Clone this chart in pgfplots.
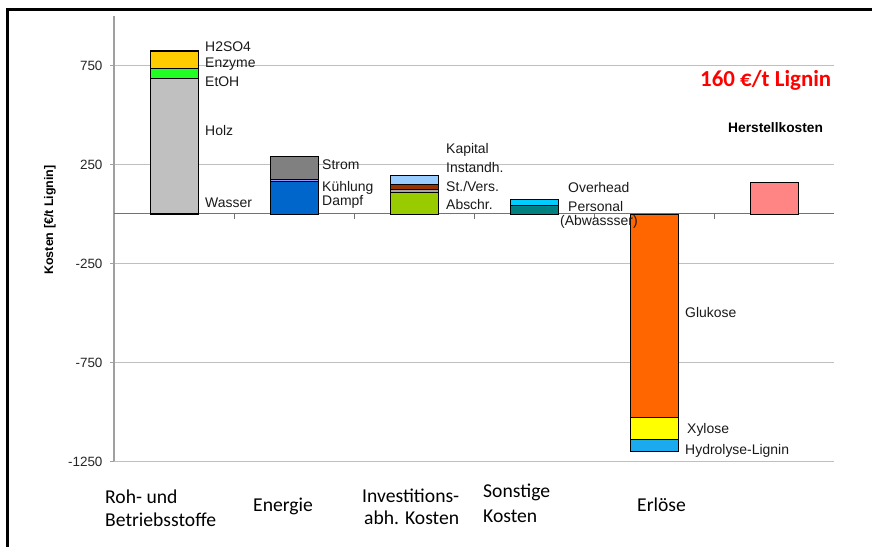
\documentclass[border=0pt]{standalone}
\usepackage{pgfplots}
\pgfplotsset{compat=1.18}
\usepackage{fontspec}
\setmainfont{Liberation Sans}
\newfontfamily\calibri{Carlito}
\definecolor{cWasser}{HTML}{333366}
\definecolor{cHolz}{HTML}{C0C0C0}
\definecolor{cEtOH}{HTML}{22FF22}
\definecolor{cEnzyme}{HTML}{FFCC00}
\definecolor{cHSO}{HTML}{996600}
\definecolor{cDampf}{HTML}{0066CC}
\definecolor{cKuehl}{HTML}{9999FF}
\definecolor{cStrom}{HTML}{808080}
\definecolor{cAbschr}{HTML}{99CC00}
\definecolor{cStVers}{HTML}{A6A6A6}
\definecolor{cInst}{HTML}{993300}
\definecolor{cKapital}{HTML}{99CCFF}
\definecolor{cPersonal}{HTML}{008080}
\definecolor{cOverhead}{HTML}{00CCFF}
\definecolor{cGlukose}{HTML}{FF6600}
\definecolor{cXylose}{HTML}{FFFF00}
\definecolor{cLignin}{HTML}{1CAAEE}
\definecolor{cHerst}{HTML}{FF8585}
\definecolor{cGrid}{HTML}{BFBFBF}
\definecolor{cAxis}{HTML}{A0A0A0}
\newcommand\lab[3]{\node[anchor=base west, inner sep=0pt, text=black!90, font=\fontsize{14}{16}\selectfont] at (#1,547-#2) {#3};}
\newcommand\cat[3]{\node[anchor=base west, inner sep=0pt, text=black, font=\calibri\fontsize{19.7}{23}\selectfont] at (#1,547-#2) {#3};}
\begin{document}
\begin{tikzpicture}[x=1bp,y=1bp]
\useasboundingbox (0,0) rectangle (872,547);
\draw[line width=3bp] (7,0) -- (7,537) -- (872,537);
\begin{axis}[
  at={(114bp,85.5bp)}, anchor=south west,
  scale only axis, width=720bp, height=445.5bp,
  xmin=-0.5, xmax=5.5, ymin=-1250, ymax=1000,
  axis x line=none, axis y line=left,
  axis line style={-, draw=cAxis, line width=1.2bp},
  ytick={-1250,-750,-250,250,750},
  yticklabels={-1250,-750,-250,250,750},
  extra y ticks={0}, extra y tick labels={},
  extra y tick style={grid style={draw=black!55, line width=1bp}, major tick length=0pt},
  ymajorgrids, grid style={draw=cGrid, line width=1.2bp},
  tick align=outside, major tick length=4bp, tick style={draw=cAxis, line width=1bp},
  yticklabel style={font=\fontsize{13.5}{16}\selectfont, text=black!85, xshift=-4bp},
  ybar stacked, bar width=48bp,
  every axis plot/.append style={draw=black, line width=0.8bp},
  clip=false,
]
% Roh- und Betriebsstoffe
\addplot[fill=cWasser]   coordinates {(0,5) (1,0) (2,0) (3,0) (4,0) (5,0)};
\addplot[fill=cHolz]     coordinates {(0,678) (1,0) (2,0) (3,0) (4,0) (5,0)};
\addplot[fill=cEtOH]     coordinates {(0,50) (1,0) (2,0) (3,0) (4,0) (5,0)};
\addplot[fill=cEnzyme]   coordinates {(0,89) (1,0) (2,0) (3,0) (4,0) (5,0)};
\addplot[fill=cHSO]      coordinates {(0,5) (1,0) (2,0) (3,0) (4,0) (5,0)};
% Energie
\addplot[fill=cDampf]    coordinates {(0,0) (1,163) (2,0) (3,0) (4,0) (5,0)};
\addplot[fill=cKuehl]    coordinates {(0,0) (1,12) (2,0) (3,0) (4,0) (5,0)};
\addplot[fill=cStrom]    coordinates {(0,0) (1,117) (2,0) (3,0) (4,0) (5,0)};
% Investitionsabh. Kosten
\addplot[fill=cAbschr]   coordinates {(0,0) (1,0) (2,107) (3,0) (4,0) (5,0)};
\addplot[fill=cStVers]   coordinates {(0,0) (1,0) (2,17) (3,0) (4,0) (5,0)};
\addplot[fill=cInst]     coordinates {(0,0) (1,0) (2,27) (3,0) (4,0) (5,0)};
\addplot[fill=cKapital]  coordinates {(0,0) (1,0) (2,45) (3,0) (4,0) (5,0)};
% Sonstige Kosten
\addplot[fill=cPersonal] coordinates {(0,0) (1,0) (2,0) (3,44) (4,0) (5,0)};
\addplot[fill=cOverhead] coordinates {(0,0) (1,0) (2,0) (3,29) (4,0) (5,0)};
% Erloese
\addplot[fill=cGlukose]  coordinates {(0,0) (1,0) (2,0) (3,0) (4,-1025) (5,0)};
\addplot[fill=cXylose]   coordinates {(0,0) (1,0) (2,0) (3,0) (4,-114) (5,0)};
\addplot[fill=cLignin]   coordinates {(0,0) (1,0) (2,0) (3,0) (4,-62) (5,0)};
% Herstellkosten
\addplot[fill=cHerst]    coordinates {(0,0) (1,0) (2,0) (3,0) (4,0) (5,160)};
\end{axis}
% category boundary ticks on zero line
\foreach \xx in {234,354,474,594,714} {\draw[draw=black!55, line width=1bp] (\xx,547-214.5) -- (\xx,547-219);}
% y label
\node[rotate=90, font=\bfseries\fontsize{12.5}{15}\selectfont] at (50,547-220) {Kosten [€/t Lignin]};
% data labels
\lab{205}{52}{H2SO4}
\lab{205}{68}{Enzyme}
\lab{205}{87}{EtOH}
\lab{205}{136}{Holz}
\lab{205}{208}{Wasser}
\lab{322}{170}{Strom}
\lab{322}{191.7}{Kühlung}
\lab{322}{206}{Dampf}
\lab{446}{154}{Kapital}
\lab{446}{173}{Instandh.}
\lab{446}{192}{St./Vers.}
\lab{446}{210}{Abschr.}
\lab{568}{193}{Overhead}
\lab{568}{211.7}{Personal}
\lab{560}{225.7}{(Abwassser)}
\lab{685}{318}{Glukose}
\lab{687}{434}{Xylose}
\lab{685}{455}{Hydrolyse-Lignin}
% annotations
\node[anchor=base west, inner sep=0pt, text=red, font=\calibri\bfseries\fontsize{23}{27}\selectfont] at (700,547-87) {160 €/t Lignin};
\node[anchor=base west, inner sep=0pt, font=\bfseries\fontsize{13.8}{16}\selectfont] at (728,547-133) {Herstellkosten};
% category labels
\cat{105}{504}{Roh- und}
\cat{105}{527}{Betriebsstoffe}
\cat{253}{512}{Energie}
\cat{362}{503}{Investitions-}
\cat{364}{525}{abh. Kosten}
\cat{483}{498}{Sonstige}
\cat{483}{523}{Kosten}
\cat{637}{512}{Erlöse}
\end{tikzpicture}
\end{document}
